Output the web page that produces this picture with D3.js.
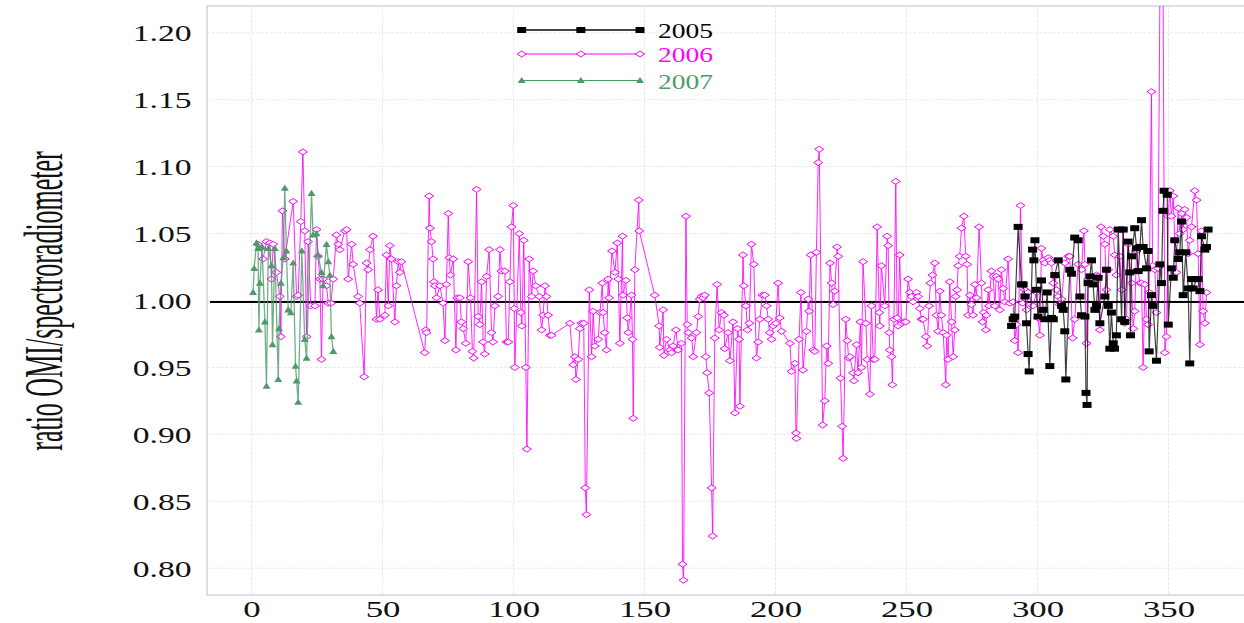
<!DOCTYPE html>
<html>
<head>
<meta charset="utf-8">
<script src="https://cdn.jsdelivr.net/npm/d3@7"></script>
<style>
  html, body { margin: 0; padding: 0; background: #fff; overflow: hidden; }
  svg { display: block; }
</style>
</head>
<body>
<svg id="chart" width="1244" height="623"></svg>
<script>
// ---- data: day of year vs. OMI / spectroradiometer ratio ----
const seriesNames = ["2005", "2006", "2007"];

const days2005 = [290.1, 290.7, 291.3, 292.6, 293.9, 294.5, 295.2, 295.8, 296.4, 296.8, 298.1, 298.6, 299.0, 299.6, 300.2,
  301.5, 302.2, 302.8, 303.7, 304.7, 305.3, 306.0, 306.6, 307.9, 309.2, 309.8, 310.4, 310.8, 312.3, 313.0, 314.2, 315.5,
  316.2, 316.8, 318.1, 318.5, 318.9, 319.3, 320.0, 320.6, 321.2, 321.9, 322.5, 323.1, 323.8, 325.7, 326.3, 327.0, 327.6,
  328.2, 328.9, 329.4, 330.1, 330.8, 332.1, 332.7, 333.3, 334.6, 335.2, 335.5, 335.9, 337.1, 337.8, 338.4, 339.1, 339.7,
  340.3, 341.6, 342.2, 342.6, 343.5, 344.1, 345.4, 346.7, 347.3, 347.9, 348.3, 349.5, 349.9, 351.1, 351.8, 352.4, 353.7,
  354.3, 355.0, 355.6, 356.6, 357.5, 358.1, 358.8, 359.4, 360.7, 361.3, 362.0, 362.6, 363.9, 364.5, 365.1];
const ratio2005 = [0.981, 0.986, 0.988, 1.055, 1.012, 1.012, 1.003, 0.983, 0.960, 0.947, 1.038, 1.030, 1.045, 1.008, 0.988,
  1.015, 0.993, 0.986, 1.006, 0.951, 0.987, 0.986, 1.019, 1.030, 0.996, 0.993, 0.977, 0.941, 1.023, 1.020, 1.047, 1.045,
  1.003, 0.989, 0.988, 0.931, 0.922, 1.013, 1.018, 1.030, 1.012, 0.993, 0.996, 1.017, 0.983, 1.003, 1.023, 0.996, 0.964,
  0.991, 0.968, 0.964, 0.974, 1.053, 0.986, 1.053, 0.984, 1.044, 1.021, 0.974, 1.033, 1.054, 1.039, 1.022, 1.040, 1.060,
  1.040, 1.024, 1.037, 0.962, 1.004, 0.996, 0.955, 1.027, 1.013, 1.067, 1.082, 1.079, 0.982, 1.024, 1.017, 1.045, 1.031,
  1.036, 1.059, 1.004, 1.036, 1.009, 0.953, 1.016, 1.009, 1.016, 1.016, 1.007, 1.048, 1.038, 1.040, 1.053];

const days2006 = [2.5, 3.6, 4.4, 5.7, 7.0, 7.6, 8.3, 9.5, 10.8, 11.2, 11.8, 12.7, 15.9, 17.2, 17.8, 18.8, 19.6, 20.3, 21.0,
  21.6, 22.6, 24.2, 24.8, 25.4, 26.1, 26.7, 27.3, 28.6, 29.3, 30.3, 31.2, 32.4, 33.1, 33.7, 35.6, 36.3, 36.9, 38.2, 38.8,
  40.7, 41.3, 43.0, 43.9, 44.5, 45.2, 46.4, 47.7, 48.3, 49.0, 50.9, 51.5, 52.2, 52.8, 53.4, 54.7, 55.3, 56.0, 56.6, 57.2,
  66.1, 66.5, 66.8, 67.8, 68.1, 68.7, 69.3, 69.6, 70.0, 70.6, 71.9, 73.1, 73.8, 74.4, 75.1, 75.5, 75.9, 77.0, 78.0, 78.5,
  79.5, 80.1, 80.8, 81.8, 82.7, 83.6, 84.3, 84.8, 85.9, 86.5, 87.1, 87.8, 88.4, 89.0, 89.7, 90.7, 91.6, 92.2, 92.9, 94.1,
  94.8, 95.4, 96.7, 97.3, 98.0, 98.6, 99.2, 99.9, 100.3, 100.5, 102.2, 102.8, 103.2, 103.9, 104.7, 105.1, 106.0, 106.9,
  107.5, 108.5, 109.8, 110.7, 111.3, 112.0, 112.6, 113.2, 113.9, 114.5, 121.5, 122.8, 123.4, 123.8, 124.7, 125.3, 125.9,
  126.8, 127.4, 127.8, 128.9, 129.8, 130.4, 131.0, 132.3, 133.0, 133.9, 134.2, 134.8, 135.5, 136.1, 136.5, 137.6, 138.7,
  139.6, 140.0, 140.6, 141.6, 141.8, 142.9, 143.4, 143.8, 145.0, 145.4, 145.7, 146.3, 147.8, 148.0, 153.9, 155.6, 155.8,
  157.1, 157.4, 158.4, 159.7, 160.3, 160.9, 162.0, 162.8, 164.1, 164.5, 164.9, 165.8, 166.3, 166.7, 168.0, 168.6, 169.8,
  170.5, 171.1, 171.7, 172.4, 173.0, 173.4, 173.9, 174.7, 175.6, 176.0, 176.8, 177.7, 178.5, 179.4, 180.3, 180.6, 181.9,
  182.6, 183.8, 184.5, 185.5, 186.1, 186.4, 187.6, 187.9, 188.7, 189.3, 190.0, 190.8, 191.7, 192.7, 193.4, 194.0, 195.0,
  195.9, 196.6, 197.2, 197.8, 198.5, 199.1, 200.1, 201.0, 201.6, 202.3, 205.5, 206.1, 207.4, 207.8, 208.0, 209.0, 209.7,
  210.5, 211.8, 212.5, 212.8, 213.4, 214.4, 215.0, 215.6, 216.3, 216.7, 218.0, 218.8, 219.5, 220.1, 220.8, 221.4, 222.0,
  222.6, 223.5, 223.9, 224.8, 225.4, 225.8, 226.8, 227.4, 227.9, 228.4, 229.6, 229.9, 230.9, 231.5, 232.4, 232.8, 233.4,
  234.5, 235.0, 236.0, 236.6, 237.3, 237.9, 238.8, 239.6, 239.8, 240.4, 241.7, 242.6, 243.0, 243.4, 243.6, 244.3, 244.6,
  245.2, 245.9, 246.4, 246.8, 247.4, 248.1, 249.0, 249.7, 250.6, 251.3, 251.9, 252.5, 253.8, 254.4, 255.1, 255.7, 256.3,
  257.4, 257.9, 258.6, 259.1, 259.9, 260.8, 261.4, 262.1, 262.7, 263.3, 264.0, 265.0, 265.3, 265.9, 266.5, 267.2, 267.8,
  268.4, 268.8, 269.3, 269.7, 270.3, 271.0, 271.9, 272.6, 273.1, 273.5, 274.2, 274.8, 275.4, 276.1, 276.7, 277.7, 278.6,
  279.0, 279.5, 280.3, 280.5, 281.2, 281.5, 282.4, 283.1, 283.7, 284.3, 285.0, 285.6, 286.2, 286.9, 287.5, 288.8, 289.4,
  290.7, 291.3, 292.0, 292.6, 293.5, 294.3, 295.2, 295.8, 296.4, 298.3, 299.6, 300.2, 300.9, 301.5, 302.2, 302.8, 304.1,
  304.7, 305.3, 306.0, 306.6, 307.2, 307.9, 308.5, 309.2, 310.4, 311.7, 312.3, 313.4, 314.2, 315.5, 316.8, 317.7, 318.1,
  318.7, 319.3, 320.6, 321.9, 322.5, 323.1, 323.8, 324.2, 325.1, 325.7, 326.3, 327.0, 327.6, 328.9, 329.5, 330.1, 331.4,
  332.1, 332.7, 333.3, 334.0, 334.6, 335.9, 336.5, 337.1, 337.8, 338.4, 339.1, 339.7, 340.3, 341.0, 341.6, 342.2, 342.6,
  343.5, 343.9, 344.8, 345.4, 346.0, 347.4, 348.6, 349.2, 349.9, 350.5, 351.1, 351.8, 352.4, 353.0, 353.7, 354.3, 355.0,
  355.6, 356.2, 356.9, 357.5, 358.1, 358.8, 360.0, 360.7, 361.3, 362.0, 362.6, 363.2, 363.9, 364.5];
const ratio2006 = [1.042, 1.039, 1.031, 1.044, 1.043, 1.016, 1.042, 1.021, 1.003, 0.973, 1.067, 1.031, 1.074, 1.003, 1.004,
  1.059, 1.111, 1.052, 0.973, 1.044, 0.996, 0.996, 1.053, 1.033, 1.016, 0.956, 1.016, 1.011, 0.998, 0.998, 1.016, 1.049,
  1.042, 1.038, 1.052, 1.053, 1.016, 1.042, 1.027, 1.003, 0.998, 0.943, 1.028, 1.023, 1.038, 1.048, 0.986, 1.008, 0.986,
  0.989, 1.034, 0.996, 1.041, 1.031, 0.984, 1.011, 1.029, 1.021, 1.029,
  0.961, 0.978, 0.976, 1.078, 1.054, 1.044, 1.031, 1.014, 1.011, 1.002, 1.011, 0.998, 0.970, 1.012, 1.065, 1.032, 1.019,
  1.031, 0.963, 1.002, 1.002, 0.984, 0.979, 0.968, 1.029, 1.002, 0.962, 0.957, 1.083, 0.988, 0.982, 1.014, 0.969, 0.960,
  1.018, 1.038, 0.976, 0.969, 0.996, 1.003, 1.038, 1.022, 1.022, 0.969, 0.969, 1.014, 1.055, 1.071, 0.994, 0.950, 1.050,
  0.991, 0.981, 1.045, 0.950, 0.889, 1.031, 1.003, 1.022, 1.011, 1.003, 0.978, 0.989, 1.011, 1.003, 0.989, 0.974, 0.974,
  0.983, 0.952, 0.958, 0.941, 0.956, 0.979, 0.983, 0.983, 0.860, 0.840, 1.008, 0.958, 0.992, 0.966, 0.971, 0.991, 1.013,
  0.991, 0.976, 0.963, 1.016, 1.002, 1.037, 1.021, 1.043, 1.016, 0.968, 1.048, 1.004, 1.015, 0.987, 0.976, 1.004, 0.971,
  0.912, 1.023, 1.075, 1.052, 1.004, 0.981, 0.965, 0.993, 0.959, 0.971, 0.963, 0.961, 0.966, 0.978, 0.963, 0.968, 0.803,
  0.791, 1.063, 0.982, 0.976, 0.972, 0.958, 0.976, 0.988, 1.001, 1.003, 1.002, 1.004, 0.958, 0.946, 0.931, 0.860, 0.824,
  0.972, 1.012, 0.978, 0.991, 0.989, 0.964, 0.976, 0.955, 0.984, 0.916, 0.979, 0.971, 0.921, 1.034, 1.011, 0.996, 0.978,
  0.983, 1.042, 1.027, 0.957, 0.969, 0.986, 1.004, 1.004, 0.996, 0.986, 0.976, 0.971, 0.981, 0.983, 1.013, 0.987, 0.977,
  0.968, 0.947, 0.953, 0.901, 0.897, 0.971, 1.006, 0.948, 0.977, 1.001, 0.992, 1.034, 0.963, 0.962, 1.036, 1.103, 1.113,
  0.907, 0.925, 0.966, 0.953, 1.028, 1.013, 0.997, 1.007, 1.040, 1.033, 0.942, 0.906, 0.882, 0.986, 0.970, 0.957, 0.958,
  0.946, 0.940, 0.967, 0.946, 0.984, 0.950, 1.029, 0.983, 0.956, 0.930, 0.996, 0.956, 0.956, 1.055, 0.991, 0.981, 1.026,
  0.996, 1.048, 1.041, 0.976, 0.963, 0.958, 0.937, 0.986, 1.089, 0.987, 0.981, 1.034, 0.983, 0.984, 0.984, 1.016, 1.006,
  1.003, 0.999, 1.006, 1.003, 0.994, 0.986, 0.986, 0.973, 0.966, 0.996, 1.013, 1.019, 1.028, 0.989, 0.977, 1.007, 0.989,
  0.976, 0.937, 0.974, 0.956, 1.014, 0.984, 0.958, 0.978, 1.003, 1.008, 1.026, 1.033, 1.054, 1.063, 1.033, 1.027, 0.989,
  1.004, 0.997, 0.989, 1.012, 1.002, 1.055, 1.013, 0.984, 0.991, 0.978, 0.989, 1.008, 0.996, 1.022, 1.018, 0.996, 1.018,
  1.016, 0.993, 1.023, 1.009, 0.999, 1.031, 0.998, 0.999, 0.970, 0.982, 0.961, 1.071, 0.998, 1.008, 0.993, 1.006, 0.996,
  1.006, 0.987, 0.974, 1.039, 1.030, 1.028, 1.032, 1.030, 1.028, 1.013, 1.018, 1.008, 1.003, 0.997, 1.001, 1.028, 1.033,
  1.033, 0.972, 0.986, 1.027, 1.023, 1.052, 1.027, 0.968, 1.016, 1.016, 1.014, 1.019, 1.018, 0.978, 1.055, 1.048, 1.042,
  1.008, 1.023, 1.053, 1.048, 1.034, 1.019, 1.033, 1.008, 1.053, 0.983, 0.986, 1.042, 1.013, 0.979, 0.992, 1.037, 1.022,
  1.013, 1.013, 0.950, 1.012, 0.986, 0.982, 1.006, 1.156, 1.026, 1.023, 0.991, 1.024, 1.430, 0.961, 0.973, 1.063, 1.082,
  1.063, 1.078, 1.045, 1.021, 1.069, 1.050, 1.065, 1.053, 1.068, 1.062, 1.035, 1.045, 1.055, 1.082, 1.075, 1.035, 0.967,
  1.052, 0.992, 0.983, 1.006];

const days2007 = [0.6, 1.0, 1.9, 2.5, 2.8, 3.2, 4.0, 5.1, 5.7, 6.4, 7.6, 8.0, 8.9, 10.2, 10.5, 11.2, 12.1, 12.7, 13.3,
  14.0, 15.0, 15.9, 16.8, 17.2, 17.8, 19.2, 20.3, 21.0, 22.9, 23.5, 24.8, 25.4, 26.7, 27.3, 28.6, 29.3, 29.9, 30.5, 31.2];
const ratio2007 = [1.006, 1.024, 1.043, 1.039, 0.978, 1.013, 1.040, 0.984, 0.936, 1.039, 1.026, 0.967, 1.039, 0.941, 0.979,
  1.013, 1.032, 1.084, 1.037, 0.993, 0.991, 1.028, 0.951, 0.940, 0.924, 1.037, 0.971, 0.957, 1.080, 1.049, 1.050, 1.034,
  1.021, 1.011, 1.042, 1.029, 1.019, 0.973, 0.962];

const referenceRatio = 1.0;
const xTicks = [0, 50, 100, 150, 200, 250, 300, 350];
const yTicks = [0.80, 0.85, 0.90, 0.95, 1.00, 1.05, 1.10, 1.15, 1.20];
const yLabel = "ratio OMI/spectroradiometer";

// ---- layout ----
const W = 1244, H = 623;
const plot = { left: 207, top: 6, right: 1250, bottom: 595 };
const FONT = "'Liberation Serif', 'Times New Roman', serif";
const colors = { "2005": "#000000", "2006": "#ff00ff", "2007": "#4f9a69" };

const svg = d3.select("#chart");

const x = d3.scaleLinear().domain([-17, 381.1]).range([plot.left, plot.right]);
const y = d3.scaleLinear().domain([0.78, 1.22]).range([plot.bottom, plot.top]);

// clip for data marks
svg.append("defs").append("clipPath").attr("id", "plotClip")
  .append("rect")
  .attr("x", plot.left).attr("y", plot.top)
  .attr("width", plot.right - plot.left).attr("height", plot.bottom - plot.top);

// grid
const grid = svg.append("g").attr("class", "grid");
grid.selectAll("line.vx").data(xTicks).join("line")
  .attr("x1", d => x(d)).attr("x2", d => x(d))
  .attr("y1", plot.top).attr("y2", plot.bottom)
  .attr("stroke", "#e9e9e9").attr("stroke-width", 1).attr("stroke-dasharray", "3,1.5");
grid.selectAll("line.hy").data(yTicks).join("line")
  .attr("x1", plot.left).attr("x2", plot.right)
  .attr("y1", d => y(d)).attr("y2", d => y(d))
  .attr("stroke", "#e9e9e9").attr("stroke-width", 1).attr("stroke-dasharray", "3,1.5");

// frame
svg.append("rect")
  .attr("x", plot.left).attr("y", plot.top)
  .attr("width", plot.right - plot.left).attr("height", plot.bottom - plot.top)
  .attr("fill", "none").attr("stroke", "#d4d4e0").attr("stroke-width", 1.5);

// axes (labels only)
const xAxis = svg.append("g")
  .attr("transform", `translate(0,${plot.bottom})`)
  .call(d3.axisBottom(x).tickValues(xTicks).tickSize(0).tickFormat(d3.format("d")));
xAxis.select(".domain").remove();
xAxis.selectAll("text")
  .attr("y", 22).attr("dy", 0)
  .attr("transform", "scale(1.45,1)")
  .style("font-family", FONT).style("font-size", "24px").attr("fill", "#111");

const yAxis = svg.append("g")
  .attr("transform", `translate(${plot.left},0)`)
  .call(d3.axisLeft(y).tickValues(yTicks).tickSize(0).tickFormat(d3.format(".2f")));
yAxis.select(".domain").remove();
yAxis.selectAll("text")
  .attr("x", -11).attr("dy", "0.34em")
  .attr("transform", "scale(1.4,1)")
  .style("font-family", FONT).style("font-size", "24px").attr("fill", "#111");

// y-axis title
svg.append("text")
  .attr("transform", "translate(62,301) scale(2.1,1) rotate(-90)")
  .attr("text-anchor", "middle")
  .style("font-family", FONT).style("font-size", "26px").attr("fill", "#111")
  .text(yLabel);

// reference line at ratio 1
svg.append("line")
  .attr("x1", plot.left + 3).attr("x2", plot.right)
  .attr("y1", y(referenceRatio) + 1.5).attr("y2", y(referenceRatio) + 1.5)
  .attr("stroke", "#000").attr("stroke-width", 2.2);

// marker shapes
const markerPath = {
  "2005": "M-4.5,-3H4.5V3H-4.5Z",
  "2006": "M0,-3L4.5,0L0,3L-4.5,0Z",
  "2007": "M0,-3.6L4,2.6L-4,2.6Z"
};
const markerStyle = {
  "2005": { fill: "#000", stroke: "none" },
  "2006": { fill: "#fff", stroke: "#ff00ff" },
  "2007": { fill: "#4f9a69", stroke: "none" }
};

const series = {
  "2005": d3.zip(days2005, ratio2005),
  "2006": d3.zip(days2006, ratio2006),
  "2007": d3.zip(days2007, ratio2007)
};

const dataLayer = svg.append("g").attr("clip-path", "url(#plotClip)");
const line = d3.line().x(d => x(d[0])).y(d => y(d[1]));

function drawSeries(name, lineWidth, lineOpacity) {
  const g = dataLayer.append("g").attr("class", "s" + name);
  g.append("path")
    .datum(series[name])
    .attr("d", line)
    .attr("fill", "none")
    .attr("stroke", colors[name])
    .attr("stroke-width", lineWidth)
    .attr("stroke-opacity", lineOpacity)
    .attr("stroke-linejoin", "round");
  g.selectAll("path.m").data(series[name]).join("path")
    .attr("class", "m")
    .attr("transform", d => `translate(${x(d[0])},${y(d[1])})`)
    .attr("d", markerPath[name])
    .attr("fill", markerStyle[name].fill)
    .attr("stroke", markerStyle[name].stroke)
    .attr("stroke-width", 1);
}
drawSeries("2006", 1, 0.85);
drawSeries("2005", 1.2, 0.75);
drawSeries("2007", 1.3, 0.8);

// legend
const legend = svg.append("g").attr("class", "legend");
const legX0 = 521.7, legX1 = 640, legRow = [30, 54, 80.5];
seriesNames.forEach((name, i) => {
  const ly = legRow[i];
  legend.append("line")
    .attr("x1", legX0).attr("x2", legX1).attr("y1", ly).attr("y2", ly)
    .attr("stroke", name === "2005" ? "#444" : colors[name])
    .attr("stroke-width", name === "2005" ? 1.8 : 1.2);
  [legX0, (legX0 + legX1) / 2, legX1].forEach(mx => {
    legend.append("path")
      .attr("transform", `translate(${mx},${ly})`)
      .attr("d", markerPath[name])
      .attr("fill", markerStyle[name].fill)
      .attr("stroke", markerStyle[name].stroke)
      .attr("stroke-width", 1);
  });
  legend.append("text")
    .attr("transform", `translate(658,${ly + 8}) scale(1.25,1)`)
    .style("font-family", FONT).style("font-size", "22px")
    .attr("fill", colors[name])
    .text(name);
});
</script>
</body>
</html>
